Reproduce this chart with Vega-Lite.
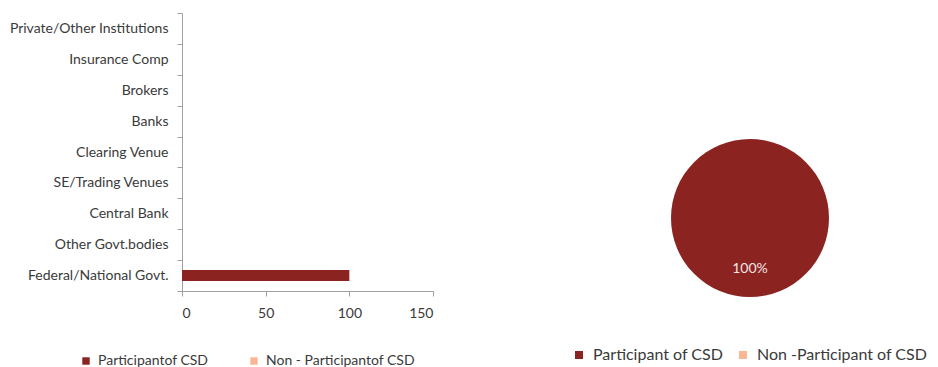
{
  "$schema": "https://vega.github.io/schema/vega-lite/v6.json",
  "padding": {"left": 9, "top": 6, "right": 0, "bottom": 0},
  "spacing": 137,
  "config": {"view": {"stroke": null}, "font": "Lato"},
  "datasets": {
    "bars": [
      {"category": "Private/Other Institutions", "series": "Participantof CSD", "value": 0},
      {"category": "Insurance Comp", "series": "Participantof CSD", "value": 0},
      {"category": "Brokers", "series": "Participantof CSD", "value": 0},
      {"category": "Banks", "series": "Participantof CSD", "value": 0},
      {"category": "Clearing Venue", "series": "Participantof CSD", "value": 0},
      {"category": "SE/Trading Venues", "series": "Participantof CSD", "value": 0},
      {"category": "Central Bank", "series": "Participantof CSD", "value": 0},
      {"category": "Other Govt.bodies", "series": "Participantof CSD", "value": 0},
      {"category": "Federal/National Govt.", "series": "Participantof CSD", "value": 100},
      {"category": "Private/Other Institutions", "series": "Non - Participantof CSD", "value": 0},
      {"category": "Insurance Comp", "series": "Non - Participantof CSD", "value": 0},
      {"category": "Brokers", "series": "Non - Participantof CSD", "value": 0},
      {"category": "Banks", "series": "Non - Participantof CSD", "value": 0},
      {"category": "Clearing Venue", "series": "Non - Participantof CSD", "value": 0},
      {"category": "SE/Trading Venues", "series": "Non - Participantof CSD", "value": 0},
      {"category": "Central Bank", "series": "Non - Participantof CSD", "value": 0},
      {"category": "Other Govt.bodies", "series": "Non - Participantof CSD", "value": 0},
      {"category": "Federal/National Govt.", "series": "Non - Participantof CSD", "value": 0}
    ],
    "pie": [
      {"series": "Participant of CSD", "value": 100, "label": "100%"},
      {"series": "Non -Participant of CSD", "value": 0, "label": "0%"}
    ]
  },
  "hconcat": [
    {
      "width": 251,
      "height": 278,
      "data": {"name": "bars"},
      "mark": {"type": "bar", "height": {"band": 0.36}},
      "encoding": {
        "y": {
          "field": "category",
          "type": "nominal",
          "sort": ["Private/Other Institutions", "Insurance Comp", "Brokers", "Banks", "Clearing Venue", "SE/Trading Venues", "Central Bank", "Other Govt.bodies", "Federal/National Govt."],
          "scale": {"paddingInner": 0, "paddingOuter": 0},
          "axis": {"title": null, "tickBand": "extent", "tickSize": 5, "labelPadding": 9, "domainColor": "#a0a0a0", "tickColor": "#a0a0a0", "labelColor": "#3a3a3a", "labelFontSize": 14, "labelLimit": 300}
        },
        "x": {
          "field": "value",
          "type": "quantitative",
          "stack": "zero",
          "scale": {"domain": [0, 150], "nice": false},
          "axis": {"title": null, "values": [0, 50, 100, 150], "grid": false, "tickSize": 5, "labelPadding": 10, "domainColor": "#a0a0a0", "tickColor": "#a0a0a0", "labelColor": "#3a3a3a", "labelFontSize": 14}
        },
        "color": {
          "field": "series",
          "type": "nominal",
          "sort": ["Participantof CSD", "Non - Participantof CSD"],
          "scale": {"domain": ["Participantof CSD", "Non - Participantof CSD"], "range": ["#8b2320", "#f9b794"]},
          "legend": {"title": null, "orient": "none", "legendX": -103, "legendY": 341, "direction": "horizontal", "symbolType": "square", "symbolSize": 55, "symbolStrokeWidth": 0, "labelFontSize": 14, "labelColor": "#3a3a3a", "columnPadding": 38, "labelOffset": 5, "labelLimit": 300}
        }
      }
    },
    {
      "width": 300,
      "height": 278,
      "data": {"name": "pie"},
      "layer": [
        {
          "mark": {"type": "arc", "outerRadius": 79, "yOffset": 66},
          "encoding": {
            "theta": {"field": "value", "type": "quantitative", "stack": true},
            "color": {
              "field": "series",
              "type": "nominal",
              "sort": ["Participant of CSD", "Non -Participant of CSD"],
              "scale": {"domain": ["Participant of CSD", "Non -Participant of CSD"], "range": ["#8b2320", "#f9b794"]},
              "legend": {"title": null, "orient": "none", "legendX": -29, "legendY": 334, "direction": "horizontal", "symbolType": "square", "symbolSize": 64, "symbolStrokeWidth": 0, "labelFontSize": 16, "labelColor": "#3a3a3a", "columnPadding": 11, "labelOffset": 6, "labelLimit": 300}
            }
          }
        },
        {
          "transform": [{"filter": "datum.value > 0"}],
          "mark": {"type": "text", "radius": 51, "yOffset": 66, "color": "#f3e3e3", "fontSize": 14},
          "encoding": {
            "theta": {"field": "value", "type": "quantitative", "stack": true},
            "text": {"field": "label"}
          }
        }
      ]
    }
  ],
  "resolve": {"scale": {"color": "independent"}}
}
